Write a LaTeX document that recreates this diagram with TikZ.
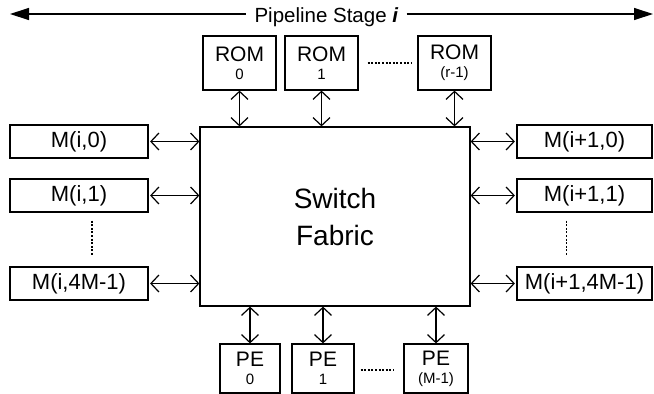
\documentclass[tikz,border=0pt]{standalone}
\usepackage{fontspec}
\setmainfont{Liberation Sans}
\usetikzlibrary{arrows.meta,calc}
\begin{document}
\begin{tikzpicture}[x=1pt,y=-1pt,
  box/.style={draw, line width=1.2pt, inner sep=0pt, align=center},
  link/.style={line width=1.2pt, {Straight Barb[length=8pt,width=17pt]}-{Straight Barb[length=8pt,width=17pt]}},
  dotline/.style={line width=1.2pt, dash pattern=on 2pt off 1.6pt},
  big/.style={font=\fontsize{22}{24}\selectfont},
  romtxt/.style={font=\fontsize{21}{18}\selectfont},
]
\useasboundingbox (0,0) rectangle (654,394);
\newcommand{\subl}[1]{{\fontsize{15}{18}\selectfont #1}}
% title
\node[anchor=base, inner xsep=8pt, font=\fontsize{20.5}{22}\selectfont] (title) at (326.5,22) {Pipeline Stage \textbf{\textit{i}}};
\coordinate (tl) at (10,14);
\coordinate (tr) at (653,14);
\draw[line width=1.2pt, {Triangle[length=19pt,width=12pt]}-] (tl) -- (tl -| title.west);
\draw[line width=1.2pt, -{Triangle[length=19pt,width=12pt]}] (tr -| title.east) -- (tr);
% fabric
\node[box, minimum width=270pt, minimum height=179pt, font=\fontsize{28}{37}\selectfont] (fab) at (335,216.5) {Switch\\Fabric};
% ROM boxes
\node[box, minimum width=73pt, minimum height=54pt, romtxt] (rom0) at (239.5,63) {ROM\\\subl{0}};
\node[box, minimum width=73pt, minimum height=54pt, romtxt] (rom1) at (321.5,63) {ROM\\\subl{1}};
\node[box, minimum width=73pt, minimum height=54pt, romtxt] (romr) at (454.5,63) {ROM\\\subl{(r-1)}};
% PE boxes
\node[box, minimum width=60pt, minimum height=49pt, romtxt] (pe0) at (250,368.5) {PE\\\subl{0}};
\node[box, minimum width=62pt, minimum height=49pt, romtxt] (pe1) at (323,368.5) {PE\\\subl{1}};
\node[box, minimum width=64pt, minimum height=49pt, romtxt] (pem) at (436,368.5) {PE\\\subl{(M-1)}};
% left memories
\node[box, minimum width=138pt, minimum height=33pt, big] (l0) at (79,141.5) {M(i,0)};
\node[box, minimum width=138pt, minimum height=33pt, big] (l1) at (79,195.5) {M(i,1)};
\node[box, minimum width=138pt, minimum height=33pt, big] (l2) at (79,283.5) {M(i,4M-1)};
% right memories
\node[box, minimum width=135pt, minimum height=33pt, big] (r0) at (584.5,141.5) {M(i+1,0)};
\node[box, minimum width=135pt, minimum height=33pt, big] (r1) at (584.5,195.5) {M(i+1,1)};
\node[box, minimum width=135pt, minimum height=33pt, big] (r2) at (584.5,283.5) {M(i+1,4M-1)};
% links
\foreach \n in {rom0,rom1,romr}{
  \draw[link] (\n.south) -- (\n.south |- fab.north);
}
\foreach \n in {pe0,pe1,pem}{
  \draw[link] (fab.south -| \n.north) -- (\n.north);
}
\foreach \n in {l0,l1,l2}{
  \draw[link] ($(\n.east)+(1.5,0)$) -- (\n.east -| fab.west);
}
\foreach \n in {r0,r1,r2}{
  \draw[link] (fab.east |- \n.west) -- ($(\n.west)+(-1.5,0)$);
}
% ellipsis dots
\draw[dotline, shorten <=9pt, shorten >=6pt] (rom1.east) -- (romr.west);
\draw[dotline, shorten <=6pt, shorten >=9pt] ($(pe1.east)+(0,1.5)$) -- ($(pem.west)+(0,1.5)$);
\draw[dotline, shorten <=8pt, shorten >=11pt] ($(l1.south)+(13,0)$) -- ($(l2.north)+(13,0)$);
\draw[dotline, shorten <=8pt, shorten >=11pt] ($(r1.south)+(-18,0)$) -- ($(r2.north)+(-18,0)$);
\end{tikzpicture}
\end{document}
